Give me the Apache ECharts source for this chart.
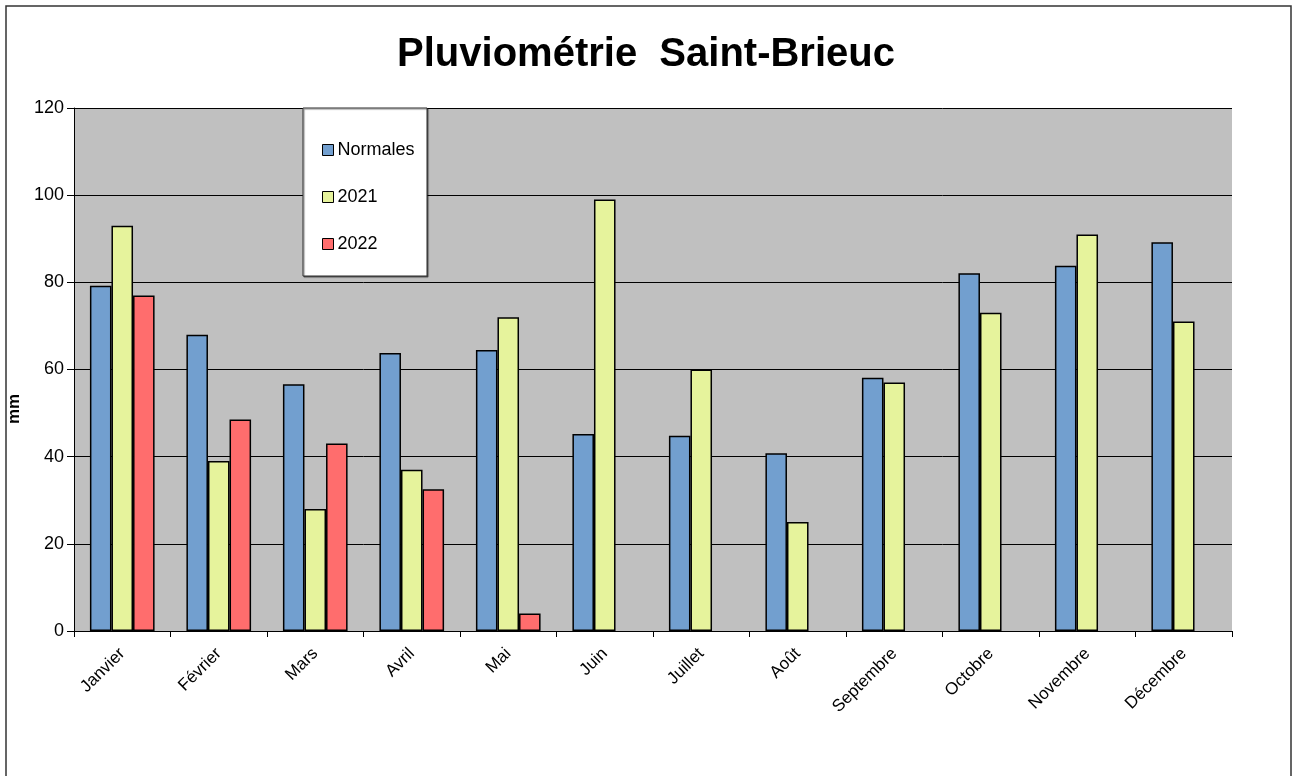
<!DOCTYPE html>
<html>
<head>
<meta charset="utf-8">
<script src="https://cdn.jsdelivr.net/npm/echarts@6/dist/echarts.min.js"></script>
<style>
  html, body { margin: 0; padding: 0; background: #fff; }
  #main { width: 1292px; height: 776px; }
</style>
</head>
<body>
<div id="main"></div>
<script>
var months = ['Janvier', 'Février', 'Mars', 'Avril', 'Mai', 'Juin', 'Juillet', 'Août', 'Septembre', 'Octobre', 'Novembre', 'Décembre'];
var normales = [79.2, 68, 56.6, 63.8, 64.5, 45.2, 44.8, 40.8, 58.1, 82.1, 83.8, 89.2];
var pluie2021 = [93, 39, 28, 37, 72, 99, 60, 25, 57, 73, 91, 71];
var pluie2022 = [77, 48.5, 43, 32.5, 4, null, null, null, null, null, null, null];

var font = 'Arial, "Liberation Sans", sans-serif';

function barSerie(name, data, color) {
    return {
        name: name,
        type: 'bar',
        data: data,
        barGap: '0%',
        barCategoryGap: '33%',
        itemStyle: {color: color, borderColor: '#000', borderWidth: 1.5},
        z: 3
    };
}

var myChart = echarts.init(document.getElementById('main'));
myChart.setOption({
    backgroundColor: '#fff',
    animation: false,
    title: {
        text: 'Pluviométrie  Saint-Brieuc',
        left: 'center',
        top: 30,
        textStyle: {fontFamily: font, fontSize: 40, fontWeight: 'bold', color: '#000'}
    },
    graphic: [
        {
            type: 'rect',
            shape: {x: 6, y: 6, width: 1285, height: 800},
            style: {fill: 'none', stroke: '#333', lineWidth: 1.5},
            z: 1
        },
        {
            type: 'rect',
            shape: {x: 303, y: 108, width: 124, height: 168},
            style: {fill: '#fff', stroke: '#333', lineWidth: 1, shadowColor: 'rgba(0,0,0,0.5)', shadowOffsetX: 1, shadowOffsetY: 1, shadowBlur: 1},
            z: 10
        },
        {
            type: 'text',
            x: 14,
            y: 409,
            rotation: Math.PI / 2,
            style: {text: 'mm', fontFamily: font, fontSize: 17, fontWeight: 'bold', fill: '#000', textAlign: 'center', textVerticalAlign: 'middle'},
            z: 10
        }
    ],
    legend: {
        orient: 'vertical',
        left: 317,
        top: 136,
        itemWidth: 11,
        itemHeight: 11,
        itemGap: 29,
        icon: 'rect',
        z: 11,
        textStyle: {fontFamily: font, fontSize: 18, color: '#000', padding: [0, 0, 0, -1]},
        data: ['Normales', '2021', '2022'],
        itemStyle: {borderColor: '#000', borderWidth: 1}
    },
    grid: {
        left: 74,
        top: 108,
        right: 60,
        bottom: 145,
        show: true,
        backgroundColor: '#c0c0c0',
        borderWidth: 0
    },
    xAxis: {
        type: 'category',
        data: months,
        axisLine: {lineStyle: {color: '#000', width: 1}},
        axisTick: {show: true, length: 6, lineStyle: {color: '#000'}},
        axisLabel: {rotate: 45, fontFamily: font, fontSize: 17, color: '#000', margin: 20}
    },
    yAxis: {
        type: 'value',
        min: 0,
        max: 120,
        interval: 20,
        axisLine: {show: true, lineStyle: {color: '#000', width: 1}},
        axisTick: {show: true, length: 7, lineStyle: {color: '#000'}},
        axisLabel: {fontFamily: font, fontSize: 18, color: '#000', margin: 10},
        splitLine: {show: true, lineStyle: {color: '#000', width: 1}}
    },
    series: [
        barSerie('Normales', normales, '#729fcf'),
        barSerie('2021', pluie2021, '#e6f39c'),
        barSerie('2022', pluie2022, '#ff6d6d')
    ]
});
</script>
</body>
</html>
